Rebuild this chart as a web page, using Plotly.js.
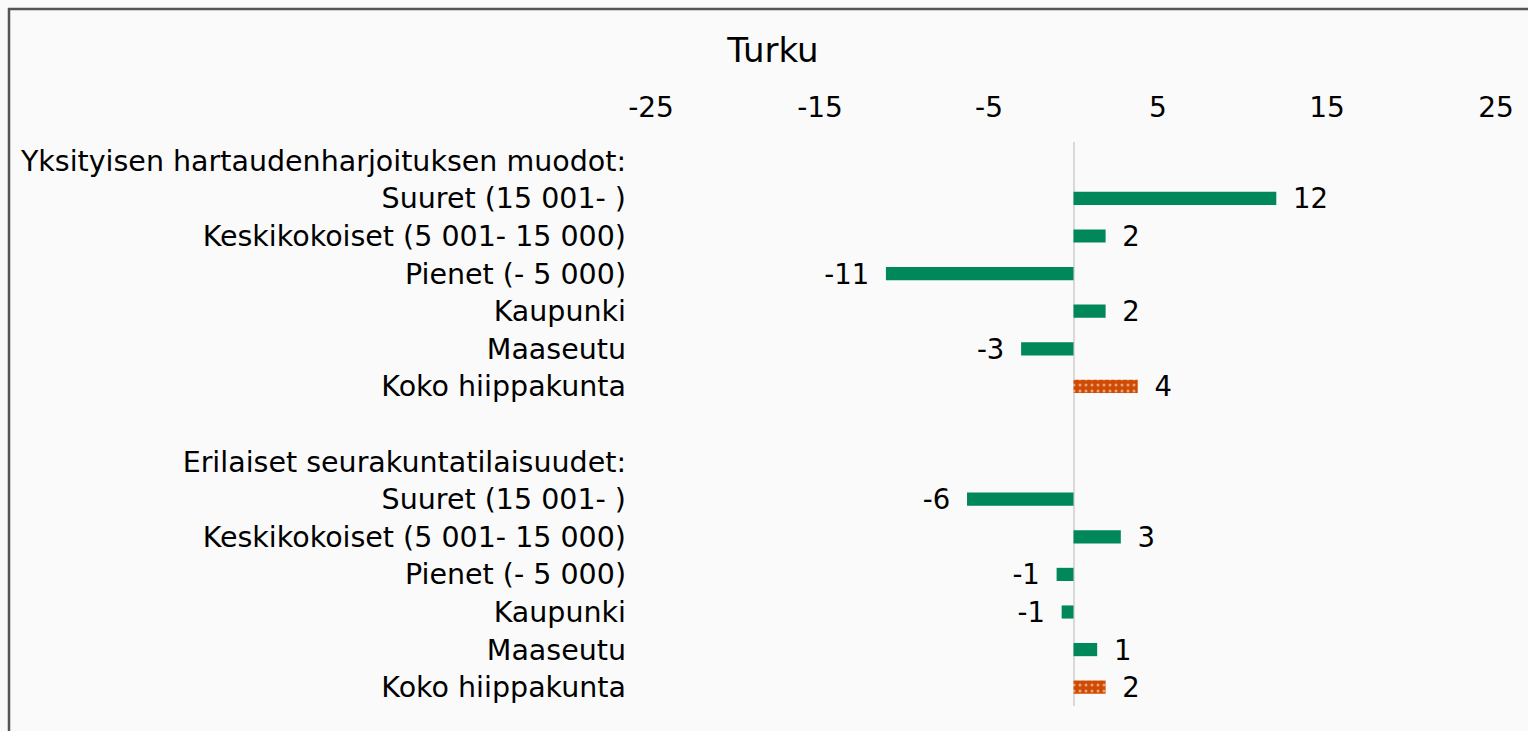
<!DOCTYPE html>
<html>
<head>
<meta charset="utf-8">
<script src="https://cdn.plot.ly/plotly-3.0.1.min.js"></script>
<style>
html,body{margin:0;padding:0;background:#fafafa;overflow:hidden;}
#chart{width:1528px;height:731px;}
</style>
</head>
<body>
<div id="chart"></div>
<script>
// Row labels (top to bottom); header rows and the blank spacer carry no value
const categories = [
  "Yksityisen hartaudenharjoituksen muodot:",
  "Suuret (15 001- )",
  "Keskikokoiset (5 001- 15 000)",
  "Pienet (- 5 000)",
  "Kaupunki",
  "Maaseutu",
  "Koko hiippakunta",
  "",
  "Erilaiset seurakuntatilaisuudet:",
  "Suuret (15 001- )",
  "Keskikokoiset (5 001- 15 000)",
  "Pienet (- 5 000)",
  "Kaupunki",
  "Maaseutu",
  "Koko hiippakunta"
];
const values = [null, 12.0, 1.9, -11.1, 1.9, -3.1, 3.8, null, null, -6.3, 2.8, -1.0, -0.7, 1.4, 1.9];
const isTotal = [false,false,false,false,false,false,true,false,false,false,false,false,false,false,true];
const xTicks = [-25, -15, -5, 5, 15, 25];
const chartTitle = "Turku";

const GREEN = "#00875a";
const ORANGE = "#d04a02";
const FONT = "DejaVu Sans, Verdana, sans-serif";
const FS = 28.5;
const rows = categories.map((c, i) => i);

const trace = {
  type: "bar",
  orientation: "h",
  y: rows,
  x: values,
  width: 0.35,
  marker: {
    color: isTotal.map(t => t ? ORANGE : GREEN),
    line: {width: 0},
    pattern: {
      shape: isTotal.map(t => t ? "." : ""),
      fgcolor: "#ffffff",
      fillmode: "overlay",
      size: 6,
      solidity: 0.2
    }
  },
  text: values.map(v => v === null ? "" : (v >= 0 ? "\u2002" + Math.round(v) : Math.round(v) + "\u2002")),
  texttemplate: "%{text}",
  textposition: "outside",
  constraintext: "none",
  cliponaxis: false,
  textfont: {family: FONT, size: 27.5, color: "#000"},
  hoverinfo: "skip"
};

const L = 651, R = 32, T = 142, B = 25;
const W = 1528, H = 731;
const pw = W - L - R, ph = H - T - B;

const layout = {
  width: W, height: H,
  paper_bgcolor: "#fafafa",
  plot_bgcolor: "#fafafa",
  margin: {l: L, r: R, t: T, b: B, pad: 0},
  showlegend: false,
  font: {family: FONT, size: FS, color: "#000"},
  title: {
    text: chartTitle,
    font: {family: FONT, size: 34, color: "#000"},
    xref: "container", yref: "container",
    x: 773 / W, y: 1 - 50 / H,
    xanchor: "center", yanchor: "middle"
  },
  xaxis: {
    side: "top",
    range: [-25, 25],
    tickvals: xTicks,
    ticktext: xTicks.map(String),
    showgrid: false,
    zeroline: true,
    zerolinecolor: "#d9d9d9",
    zerolinewidth: 2,
    showline: false,
    ticks: "",
    ticklabelstandoff: 18,
    tickfont: {size: 28}
  },
  yaxis: {
    range: [categories.length - 0.5, -0.5],
    tickvals: rows,
    ticktext: categories,
    showgrid: false,
    zeroline: false,
    showline: false,
    ticks: "",
    ticklabelstandoff: 24,
    tickfont: {size: FS}
  },
  shapes: [{
    type: "rect",
    xref: "paper", yref: "paper",
    x0: (9 - L) / pw, x1: (W + 20 - L) / pw,
    y0: -(B + 20) / ph, y1: 1 + (T - 9) / ph,
    line: {color: "#555555", width: 2.5},
    fillcolor: "rgba(0,0,0,0)",
    layer: "above"
  }]
};

Plotly.newPlot("chart", [trace], layout, {displayModeBar: false, staticPlot: true});
</script>
</body>
</html>
